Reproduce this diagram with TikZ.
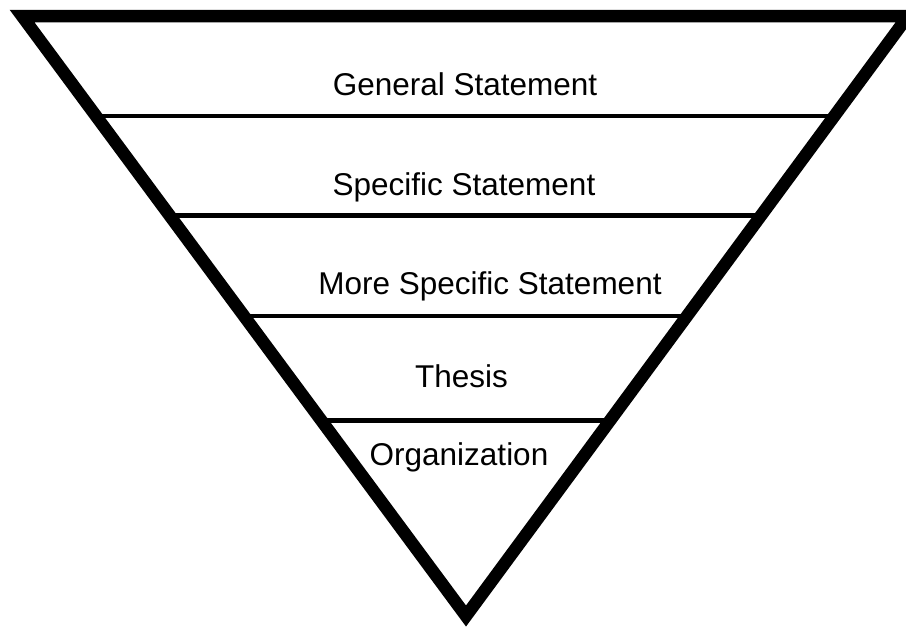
\documentclass[tikz,border=0pt]{standalone}
\usepackage{fontspec}
\setmainfont{Liberation Sans}
\usetikzlibrary{calc}
\begin{document}
\begin{tikzpicture}[x=1pt,y=-1pt,
  frame/.style={line width=12.5pt,line join=miter,miter limit=20},
  divider/.style={line width=4.5pt},
  label/.style={anchor=base,inner sep=0pt,font=\fontsize{31.5}{36}\selectfont}]
\useasboundingbox (0,0) rectangle (906,627);
\coordinate (L) at (22,16);
\coordinate (R) at (908,16);
\coordinate (A) at (466,616);
\foreach \t [count=\i] in {0.1667,0.3325,0.5,0.674}{
  \coordinate (l\i) at ($(L)!\t!(A)$);
  \coordinate (r\i) at ($(R)!\t!(A)$);
  \draw[divider] (l\i) -- (r\i);
}
\draw[frame] (L) -- (R) -- (A) -- cycle;
\node[label] (g) at (465,95) {General Statement};
\node[label] (s) at (464,195) {Specific Statement};
\node[label] (m) at (490,294) {More Specific Statement};
\node[label] (t) at (461.5,387) {Thesis};
\node[label] (o) at (459,465) {Organization};
\end{tikzpicture}
\end{document}
